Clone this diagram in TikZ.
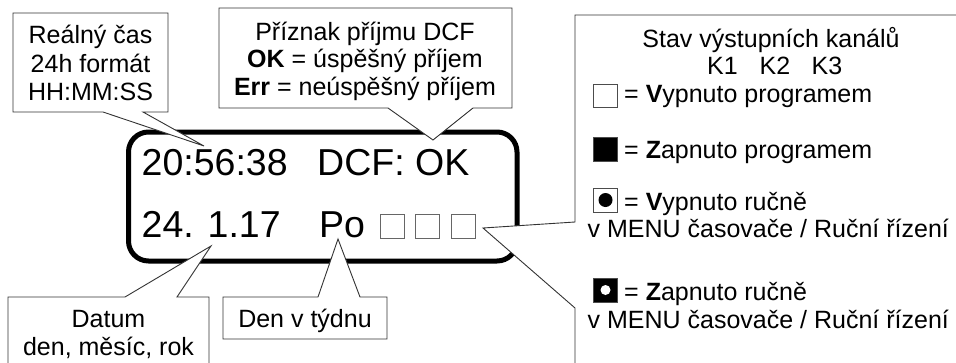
\documentclass[tikz,border=0pt]{standalone}
\usepackage{fontspec}
\setmainfont{Liberation Sans}
\begin{document}
\begin{tikzpicture}[x=1pt,y=-1pt,
  callout/.style={draw=black!80, line width=0.9pt, fill=white, line join=miter},
  txt/.style={inner sep=0pt, anchor=base, font=\fontsize{25}{29}\selectfont},
  txtl/.style={txt, anchor=base west},
  big/.style={inner sep=0pt, anchor=base west, font=\fontsize{37.5}{44}\selectfont},
  chan/.style={draw=black!60, line width=0.9pt, fill=white, minimum size=24pt, inner sep=0pt},
  onbox/.style={draw=black!70, line width=0.8pt, fill=black, minimum size=24pt, inner sep=0pt},
  offbox/.style={draw=black!70, line width=0.8pt, fill=white, minimum size=24pt, inner sep=0pt},
  lcd/.style={draw, line width=5pt, rounded corners=20pt, inner sep=0pt}
]
\path[use as bounding box, clip] (0,0) rectangle (956,362);
\fill[white] (0,0) rectangle (956,362);

% display frame
\node[lcd, minimum width=388.5pt, minimum height=129pt] (lcd) at (322.75,196.5) {};

% display contents
\node[big] (time) at (141.5,175) {20:56:38};
\node[big] (dcf) at (317,175) {DCF: OK};
\node[big] (date) at (141.5,237) {24. 1.17};
\node[big] (day) at (319,237) {Po};
\node[chan] (k1) at (392,226) {};
\node[chan] (k2) at (427,226) {};
\node[chan] (k3) at (463,226) {};

% callout: real time
\draw[callout] (13,13) -- (168,13) -- (168,112) -- (143,112) -- (204,146) -- (103,112) -- (13,112) -- cycle;
\node[txt] (rt1) at (90.5,43) {Reálný čas};
\node[txt] (rt2) at (90.5,72) {24h formát};
\node[txt] (rt3) at (90.5,100) {HH:MM:SS};

% callout: DCF reception flag
\draw[callout] (219,8) -- (512,8) -- (512,108) -- (473,108) -- (433,140) -- (388,108) -- (219,108) -- cycle;
\node[txt] (dc1) at (365,40) {Příznak příjmu DCF};
\node[txt] (dc2) at (365,67) {\textbf{OK} = úspěšný příjem};
\node[txt] (dc3) at (365,95) {\textbf{Err} = neúspěšný příjem};

% callout: date
\draw[callout] (8,380) -- (8,297) -- (125,297) -- (211,246) -- (177,297) -- (209,297) -- (209,380) -- cycle;
\node[txt] (dt1) at (108.5,327) {Datum};
\node[txt] (dt2) at (108.5,355) {den, měsíc, rok};

% callout: day of week
\draw[callout] (223,297) -- (318,297) -- (338,239) -- (360,297) -- (387,297) -- (387,339) -- (223,339) -- cycle;
\node[txt] (dw) at (305,327) {Den v týdnu};

% callout: output channel states
\draw[callout] (990,15) -- (575,15) -- (575,222) -- (483,228) -- (575,308) -- (575,390) -- (990,390) -- cycle;
\node[txt] (st) at (771,47) {Stav výstupních kanálů};
\node[txt] (lk1) at (722.5,74) {K1};
\node[txt] (lk2) at (775,74) {K2};
\node[txt] (lk3) at (827,74) {K3};

\node[offbox, minimum height=23pt] (s1) at (605,95.5) {};
\node[txtl] (l1) at (624,102) {= \textbf{V}ypnuto programem};

\node[onbox] (s2) at (605,149) {};
\node[txtl] (l2) at (624,158) {= \textbf{Z}apnuto programem};

\node[offbox] (s3) at (605.5,200) {};
\fill (s3.center) circle (7pt);
\node[txtl] (l3) at (624,210) {= \textbf{V}ypnuto ručně};
\node[txtl] (l3b) at (587.5,237) {v MENU časovače / Ruční řízení};

\node[onbox] (s4) at (605.5,290) {};
\fill[white] (s4.center) circle (5pt);
\node[txtl] (l4) at (624,300) {= \textbf{Z}apnuto ručně};
\node[txtl] (l4b) at (587.5,328) {v MENU časovače / Ruční řízení};
\end{tikzpicture}
\end{document}
